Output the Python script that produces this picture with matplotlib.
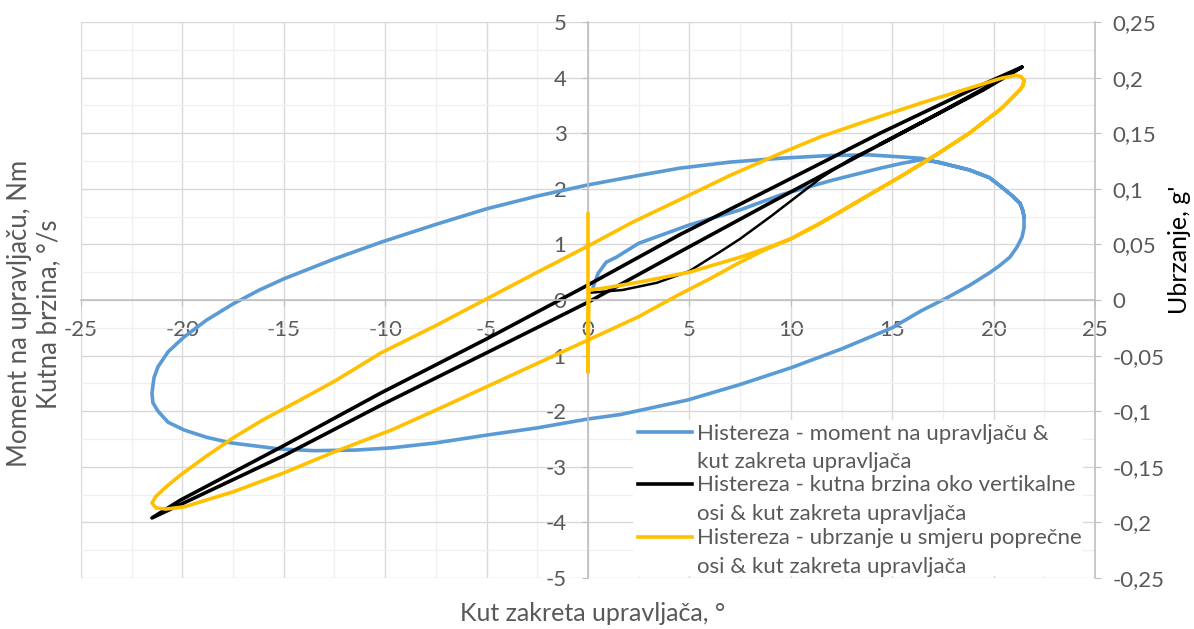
import matplotlib
matplotlib.use("Agg")
import matplotlib.pyplot as plt
from matplotlib.ticker import MultipleLocator, FuncFormatter
from matplotlib.lines import Line2D
from matplotlib.patches import Rectangle

plt.rcParams['font.family'] = ['Lato', 'DejaVu Sans']

# Histereza - moment na upravljaču (Nm) vs kut zakreta (°)
blue_x = [0.25, 0.5, 0.9, 1.4, 2.5, 5.0, 7.5, 9.5, 12.0, 14.4, 15.5, 16.4, 17.3, 18.8, 19.8, 20.4,
          20.9, 21.3, 21.45, 21.5, 21.5, 21.4, 21.15, 20.8, 20.3, 19.8, 18.8, 17.7, 16.4, 15.0, 12.5,
          10.0, 7.5, 4.9, 1.6, 0.0, -2.5, -5.0, -7.5, -9.7, -11.5, -13.5, -15.2, -17.6, -18.8, -19.9,
          -20.7, -21.2, -21.45, -21.5, -21.4, -21.2, -20.7, -19.9, -18.8, -17.5, -16.2, -15.0, -12.5,
          -10.2, -7.5, -5.0, -2.5, 0.0, 2.5, 4.5, 7.0, 9.5, 12.0, 13.9, 16.4, 18.8, 19.8, 20.4,
          20.9, 21.3, 21.45, 21.5]
blue_y = [0.23, 0.48, 0.68, 0.77, 1.02, 1.35, 1.62, 1.89, 2.15, 2.37, 2.46, 2.52, 2.48, 2.34, 2.2, 2.03,
          1.88, 1.74, 1.6, 1.49, 1.3, 1.13, 0.95, 0.77, 0.62, 0.49, 0.26, 0.04, -0.2, -0.5, -0.88,
          -1.22, -1.52, -1.8, -2.06, -2.14, -2.3, -2.43, -2.57, -2.66, -2.7, -2.71, -2.68, -2.57, -2.47, -2.34,
          -2.2, -2.0, -1.85, -1.68, -1.4, -1.2, -0.93, -0.66, -0.36, -0.07, 0.18, 0.38, 0.74,
          1.04, 1.36, 1.64, 1.87, 2.07, 2.24, 2.37, 2.48, 2.55, 2.6, 2.61, 2.55, 2.34, 2.2, 2.03,
          1.88, 1.74, 1.6, 1.49]

# Histereza - kutna brzina (°/s): početni dio i petlja
black_start_x = [0.1, 1.7, 3.4, 5.0, 6.7, 7.5, 9.0, 10.0, 11.5, 13.0, 14.4]
black_start_y = [0.13, 0.18, 0.31, 0.52, 0.91, 1.1, 1.5, 1.78, 2.2, 2.55, 2.8]
black_x = [14.4, 17.0, 19.5, 21.4, 19.0, 14.4, 9.0, 4.5, 0.0, -5.0, -10.2, -15.0, -20.1, -21.5,
           -20.1, -15.0, -10.2, -5.0, 0.0, 4.5, 9.0, 13.9, 17.0, 19.5, 21.4]
black_y = [2.8, 3.3, 3.8, 4.19, 3.8, 3.0, 2.0, 1.17, 0.27, -0.7, -1.67, -2.62, -3.6, -3.92,
           -3.68, -2.8, -1.89, -0.95, -0.04, 0.86, 1.75, 2.7, 3.3, 3.78, 4.19]

# Histereza - ubrzanje u smjeru poprečne osi (g)
yellow_x = [0.0, 0.0, 0.05, 0.9, 2.5, 5.0, 7.5, 8.7,
            10.0, 11.3, 12.5, 13.9, 15.5, 17.2, 18.8, 20.4, 21.3, 21.45, 21.5, 21.35, 21.1, 20.4,
            18.8, 16.4, 13.9, 11.5, 9.5, 7.0, 4.5, 2.2, 0.0, -2.5, -5.0, -7.5, -10.2, -12.4, -14.2,
            -16.0, -17.5, -18.9, -20.1, -20.8, -21.3, -21.5, -21.3, -20.8, -19.9,
            -17.5, -15.0, -12.5, -9.7, -7.5, -5.0, -2.5, 0.0, 2.5, 4.5, 6.0, 7.5, 8.7, 10.0, 11.3,
            12.5, 13.9, 15.5, 17.2, 18.8, 20.4, 21.3, 21.45, 21.5]
yellow_g = [0.078, -0.065, 0.009, 0.011, 0.016, 0.025, 0.0385, 0.046,
            0.055, 0.0675, 0.08, 0.095, 0.112, 0.131, 0.15, 0.1725, 0.189, 0.193, 0.1975, 0.201,
            0.202, 0.1995,
            0.1905, 0.177, 0.162, 0.147, 0.132, 0.112, 0.09, 0.07, 0.0485, 0.025, 0.001, -0.023,
            -0.0475, -0.072, -0.09, -0.1075, -0.124, -0.1415, -0.1575, -0.168, -0.1765, -0.1825,
            -0.187, -0.188, -0.186,
            -0.1725, -0.1555, -0.1365, -0.117, -0.099, -0.078, -0.057, -0.036, -0.015, 0.005, 0.019,
            0.034, 0.045, 0.055, 0.0675, 0.08, 0.095, 0.112, 0.131, 0.15, 0.1725, 0.189, 0.193,
            0.1975]

legend_labels = [
    ("Histereza - moment na upravljaču &", "kut zakreta upravljača"),
    ("Histereza - kutna brzina oko vertikalne", "osi & kut zakreta upravljača"),
    ("Histereza - ubrzanje u smjeru poprečne", "osi & kut zakreta upravljača"),
]

BLUE = '#5B9BD5'
BLACK = '#000000'
YELLOW = '#FFC000'
TXT = '#595959'
AXC = '#bfbfbf'

fig = plt.figure(figsize=(11.94, 6.29), dpi=100)
ax = fig.add_axes([0.0678, 0.0811, 0.8493, 0.8839])
ax2 = ax.twinx()

ax.set_xlim(-25, 25)
ax.set_ylim(-5, 5)
ax2.set_ylim(-0.25, 0.25)

ax.xaxis.set_major_locator(MultipleLocator(5))
ax.xaxis.set_minor_locator(MultipleLocator(2.5))
ax.yaxis.set_major_locator(MultipleLocator(1))
ax.yaxis.set_minor_locator(MultipleLocator(0.5))
ax2.yaxis.set_major_locator(MultipleLocator(0.05))

ax.grid(True, which='major', color='#d9d9d9', linewidth=1.0)
ax.grid(True, which='minor', color='#f0f0f0', linewidth=1.0)
ax.set_axisbelow(True)

ax.spines['left'].set_position(('data', 0))
ax.spines['bottom'].set_position(('data', 0))
ax.spines['top'].set_visible(False)
ax.spines['right'].set_visible(False)
for s in ['left', 'bottom']:
    ax.spines[s].set_color(AXC)
    ax.spines[s].set_linewidth(1.2)
ax2.spines['top'].set_visible(False)
ax2.spines['left'].set_visible(False)
ax2.spines['bottom'].set_visible(False)
ax2.spines['right'].set_color(AXC)
ax2.spines['right'].set_linewidth(1.2)

ax.tick_params(axis='both', which='major', direction='out', length=4.5, color=AXC,
               labelsize=16, labelcolor=TXT)
ax.tick_params(axis='x', pad=10)
ax.tick_params(axis='y', pad=11)
ax.tick_params(which='minor', length=0)
ax2.tick_params(axis='y', direction='out', length=4.5, color=AXC, labelsize=16,
                labelcolor=TXT, pad=8)


def fmt_comma(v, pos):
    v = round(v, 2)
    if v == 0:
        return '0'
    return f"{v:g}".replace('.', ',')


ax.xaxis.set_major_formatter(FuncFormatter(lambda v, p: f"{v:g}"))
ax.yaxis.set_major_formatter(FuncFormatter(lambda v, p: f"{v:g}"))
ax2.yaxis.set_major_formatter(FuncFormatter(fmt_comma))

ax.plot(blue_x, blue_y, color=BLUE, linewidth=2.6, solid_capstyle='round')
ax.plot(black_start_x, black_start_y, color=BLACK, linewidth=1.8, solid_capstyle='round')
ax.plot(black_x, black_y, color=BLACK, linewidth=2.6, solid_capstyle='round')
ax2.plot(yellow_x, yellow_g, color=YELLOW, linewidth=2.6, solid_capstyle='round')

ax.set_xlabel('Kut zakreta upravljača, °', fontsize=18, color=TXT)
ax.xaxis.set_label_coords(0.505, -0.043)
ax.set_ylabel('Moment na upravljaču, Nm\nKutna brzina, °/s', fontsize=18.5, color=TXT,
              linespacing=1.25)
ax.yaxis.set_label_coords(-0.019, 0.475)
ax2.set_ylabel("Ubrzanje, g'", fontsize=18, color='#000000')
ax2.yaxis.set_label_coords(1.072, 0.59)

# legenda
ax2.add_patch(Rectangle((0.544, 0.003), 0.444, 0.281, transform=ax2.transAxes,
                        facecolor='white', edgecolor='none', zorder=10))
colors = [BLUE, BLACK, YELLOW]
handle_y = [0.2626, 0.1691, 0.0737]
base1 = [0.2482, 0.1565, 0.0612]
base2 = [0.1978, 0.1043, 0.0090]
for i in range(3):
    ax2.add_line(Line2D([0.5493, 0.6026], [handle_y[i], handle_y[i]], transform=ax2.transAxes,
                        color=colors[i], linewidth=2.6, zorder=11))
    ax2.text(0.6075, base1[i], legend_labels[i][0], transform=ax2.transAxes, fontsize=16,
             color=TXT, va='baseline', ha='left', zorder=12)
    ax2.text(0.6075, base2[i], legend_labels[i][1], transform=ax2.transAxes, fontsize=16,
             color=TXT, va='baseline', ha='left', zorder=12)

fig.savefig('out.png', dpi=100)
plt.close(fig)
